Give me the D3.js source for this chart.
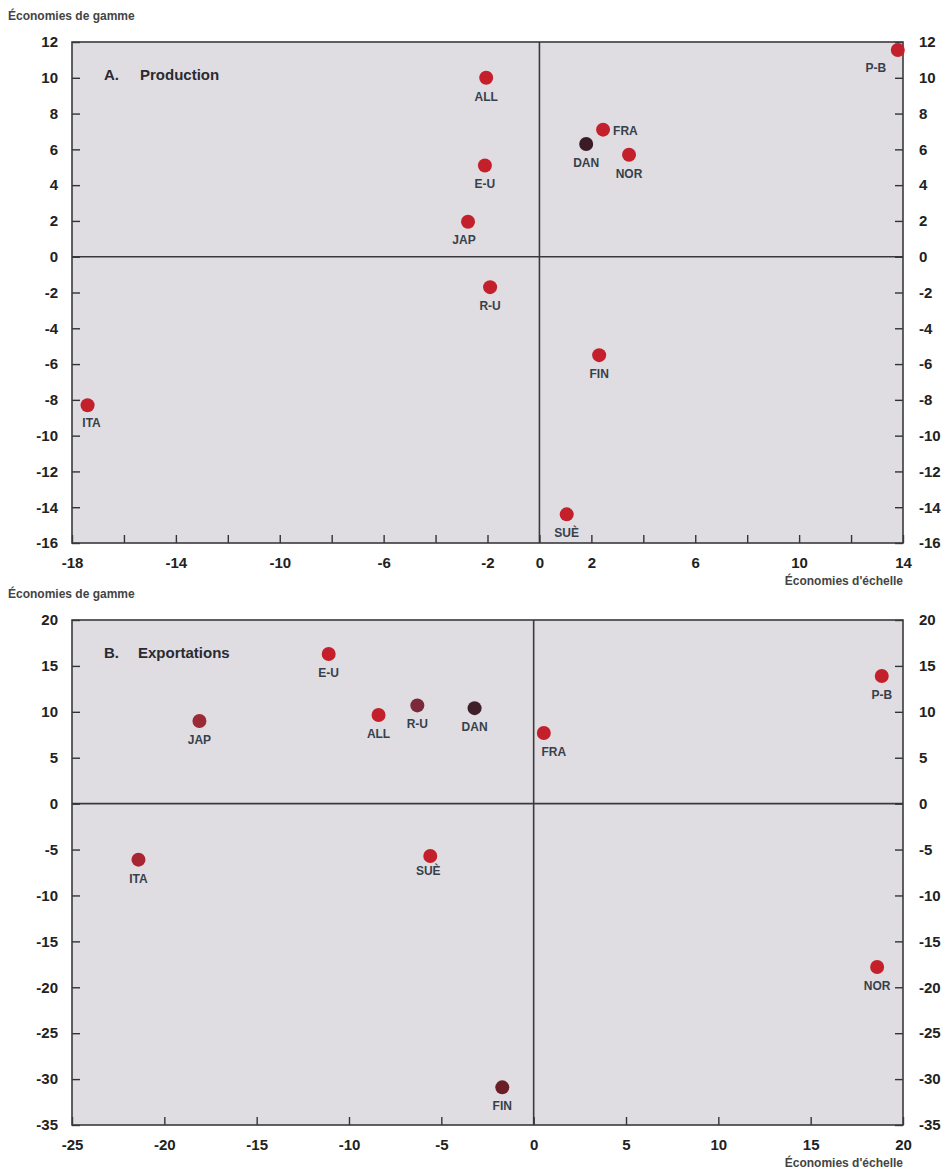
<!DOCTYPE html>
<html>
<head>
<meta charset="utf-8">
<script src="https://cdn.jsdelivr.net/npm/d3@7"></script>
<style>
  body { margin: 0; background: #fff; }
  text { font-family: "Liberation Sans", Arial, sans-serif; }
</style>
</head>
<body>
<div id="chart"></div>
<script>
// Panel A - Production
const countriesA = ["P-B", "ALL", "FRA", "DAN", "NOR", "E-U", "JAP", "R-U", "FIN", "ITA", "SUÈ"];
const scaleA = [13.8, -2.05, 2.45, 1.8, 3.45, -2.1, -2.75, -1.9, 2.3, -17.4, 1.05];
const rangeA = [11.55, 10.0, 7.1, 6.3, 5.7, 5.1, 1.95, -1.7, -5.5, -8.3, -14.4];
const xTicksA = d3.range(-18, 15, 2);
const xLabelsA = [-18, -14, -10, -6, -2, 0, 2, 6, 10, 14];
const yTicksA = d3.range(-16, 13, 2);

// Panel B - Exportations
const countriesB = ["P-B", "E-U", "JAP", "ALL", "R-U", "DAN", "FRA", "ITA", "SUÈ", "NOR", "FIN"];
const scaleB = [18.85, -11.1, -18.1, -8.4, -6.3, -3.2, 0.55, -21.4, -5.6, 18.6, -1.7];
const rangeB = [13.9, 16.3, 9.0, 9.65, 10.7, 10.4, 7.7, -6.1, -5.7, -17.8, -30.9];
const xTicksB = d3.range(-25, 21, 5);
const yTicksB = d3.range(-35, 21, 5);

const svg = d3.select('#chart').append('svg')
    .attr('width', 948)
    .attr('height', 1172);

// where each label sits relative to its dot
const labelPlace = {
    A: { "P-B": [-22, 22, 'middle'], "FRA": [10, 5, 'start'], "JAP": [-4, 22, 'middle'], "ITA": [4, 22, 'middle'] },
    B: { "FRA": [10, 23, 'middle'], "SUÈ": [-2, 19, 'middle'] }
};
const dotColor = {
    A: { "DAN": '#3b1b26' },
    B: { "R-U": '#7a2a38', "DAN": '#3e1f2a', "FIN": '#6a1e26', "JAP": '#9a2a36', "ITA": '#a82632' }
};

function drawPanel(cfg) {
    const x = d3.scaleLinear().domain(cfg.xDomain).range([72, 903]);
    const y = d3.scaleLinear().domain(cfg.yDomain).range([cfg.bottom, cfg.top]);
    const g = svg.append('g');

    g.append('text')
        .attr('x', 8).attr('y', cfg.top - 22)
        .attr('font-size', 12).attr('font-weight', 'bold').attr('fill', '#444')
        .text('Économies de gamme');

    g.append('rect')
        .attr('x', 72).attr('y', cfg.top)
        .attr('width', 903 - 72).attr('height', cfg.bottom - cfg.top)
        .attr('fill', '#e0dde2');

    // zero lines
    g.append('line')
        .attr('x1', x(0)).attr('x2', x(0)).attr('y1', cfg.top).attr('y2', cfg.bottom)
        .attr('stroke', '#3a3a3e').attr('stroke-width', 1.6);
    g.append('line')
        .attr('x1', 72).attr('x2', 903).attr('y1', y(0)).attr('y2', y(0))
        .attr('stroke', '#3a3a3e').attr('stroke-width', 1.6);

    const fmt = d => String(d);
    const yAxisL = d3.axisLeft(y).tickValues(cfg.yTicks).tickFormat(fmt).tickSizeInner(-8).tickSizeOuter(0).tickPadding(14);
    const yAxisR = d3.axisRight(y).tickValues(cfg.yTicks).tickFormat(fmt).tickSizeInner(-8).tickSizeOuter(0).tickPadding(16);
    const xAxis = d3.axisBottom(x).tickValues(cfg.xTicks).tickSizeInner(-8).tickSizeOuter(0).tickPadding(14)
        .tickFormat(d => cfg.xLabels.includes(d) ? String(d) : '');

    [g.append('g').attr('transform', 'translate(72,0)').call(yAxisL),
     g.append('g').attr('transform', 'translate(903,0)').call(yAxisR),
     g.append('g').attr('transform', `translate(0,${cfg.bottom})`).call(xAxis)].forEach(a => {
        a.select('.domain').remove();
        a.selectAll('line').attr('stroke', '#333').attr('stroke-width', 1.4);
        a.selectAll('text').attr('font-size', 15).attr('font-weight', 'bold').attr('fill', '#222')
            .style('font-family', '"Liberation Sans", Arial, sans-serif');
    });

    // frame
    g.append('rect')
        .attr('x', 72).attr('y', cfg.top)
        .attr('width', 903 - 72).attr('height', cfg.bottom - cfg.top)
        .attr('fill', 'none').attr('stroke', '#3a3a3e').attr('stroke-width', 1.6);

    g.append('text')
        .attr('x', 903).attr('y', cfg.bottom + 42)
        .attr('text-anchor', 'end')
        .attr('font-size', 12).attr('font-weight', 'bold').attr('fill', '#444')
        .text("Économies d'échelle");

    g.append('text')
        .attr('x', 104).attr('y', cfg.top + 38)
        .attr('font-size', 15).attr('font-weight', 'bold').attr('fill', '#2a2a30')
        .text(cfg.letter);
    g.append('text')
        .attr('x', cfg.titleX).attr('y', cfg.top + 38)
        .attr('font-size', 15).attr('font-weight', 'bold').attr('fill', '#2a2a30')
        .text(cfg.title);

    const data = cfg.names.map((n, i) => ({ name: n, sx: cfg.xs[i], sy: cfg.ys[i] }));

    g.selectAll('circle.pt').data(data).enter().append('circle')
        .attr('class', 'pt')
        .attr('cx', d => x(d.sx)).attr('cy', d => y(d.sy))
        .attr('r', 7)
        .attr('fill', d => dotColor[cfg.key][d.name] || '#c4202c');

    g.selectAll('text.lbl').data(data).enter().append('text')
        .attr('class', 'lbl')
        .attr('x', d => x(d.sx) + (labelPlace[cfg.key][d.name] || [0])[0])
        .attr('y', d => y(d.sy) + (labelPlace[cfg.key][d.name] || [0, 23])[1])
        .attr('text-anchor', d => (labelPlace[cfg.key][d.name] || [0, 0, 'middle'])[2])
        .attr('font-size', 12).attr('font-weight', 'bold').attr('fill', '#37414b')
        .text(d => d.name);
}

drawPanel({
    key: 'A', letter: 'A.', title: 'Production', titleX: 140,
    xDomain: [-18, 14], yDomain: [-16, 12], top: 42, bottom: 543,
    xTicks: xTicksA, xLabels: xLabelsA, yTicks: yTicksA,
    names: countriesA, xs: scaleA, ys: rangeA
});

drawPanel({
    key: 'B', letter: 'B.', title: 'Exportations', titleX: 138,
    xDomain: [-25, 20], yDomain: [-35, 20], top: 620, bottom: 1125,
    xTicks: xTicksB, xLabels: xTicksB, yTicks: yTicksB,
    names: countriesB, xs: scaleB, ys: rangeB
});
</script>
</body>
</html>
